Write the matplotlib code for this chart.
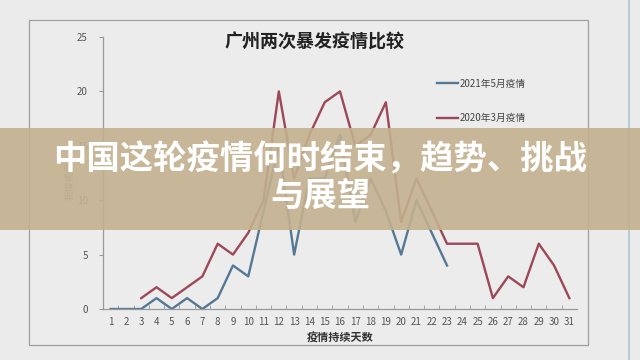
import matplotlib
matplotlib.use("Agg")
import matplotlib.pyplot as plt
from matplotlib.patches import Rectangle
from matplotlib.lines import Line2D

plt.rcParams['font.family'] = ['Noto Sans CJK SC', 'DejaVu Sans']

# data
day_labels = [str(d) for d in range(1, 32)]
days_2021 = list(range(1, 24))
cases_2021 = [0, 0, 0, 1, 0, 1, 0, 1, 4, 3, 9, 15, 5, 12, 12, 16, 8, 12, 9, 5, 10, 7, 4]
days_2020 = list(range(3, 32))
cases_2020 = [1, 2, 1, 2, 3, 6, 5, 7, 10, 20, 12, 16, 19, 20, 15, 16, 19, 8, 12, 9,
              6, 6, 6, 1, 3, 2, 6, 4, 1]
yticks = [0, 5, 10, 15, 20, 25]

blue = '#557894'
red = '#9c4858'
bg = '#ebebeb'

fig = plt.figure(figsize=(6.4, 3.6), dpi=100)
fig.patch.set_facecolor(bg)

# chart frame like the screenshot
fig.patches.append(Rectangle((29/640, 1-345/360), (588-29)/640, (345-20)/360,
                             transform=fig.transFigure, facecolor='#ececec',
                             edgecolor='#a0a0a0', lw=0.9, zorder=-2))
fig.lines.append(Line2D([629/640, 629/640], [0, 1], transform=fig.transFigure,
                        color='#a9c7d0', lw=1.2, zorder=-1))

ax = fig.add_axes([103/640, 1-309/360, (577-103)/640, (309-37)/360])
ax.set_facecolor('none')
ax.plot(days_2021, cases_2021, color=blue, lw=1.7, label='2021年5月疫情')
ax.plot(days_2020, cases_2020, color=red, lw=1.7, label='2020年3月疫情')

ax.set_xlim(0.5, 31.5)
ax.set_ylim(0, 25)
ax.set_xticks(range(1, 32))
ax.set_xticklabels(day_labels)
ax.set_xticks([d + 0.5 for d in range(0, 31)], minor=True)
ax.set_yticks(yticks)
ax.tick_params(axis='x', which='major', length=0, labelsize=7, labelcolor='#555555', pad=6)
ax.tick_params(axis='x', which='minor', length=3, color='#999999', direction='in')
ax.tick_params(axis='y', length=3, color='#999999', labelsize=7, labelcolor='#555555', pad=8)
for s in ['top', 'right']:
    ax.spines[s].set_visible(False)
for s in ['left', 'bottom']:
    ax.spines[s].set_color('#999999')
    ax.spines[s].set_linewidth(0.9)

fig.text(315/640, 1-42/360, '广州两次暴发疫情比较', ha='center', va='center',
         fontsize=13, fontweight='bold', color='#222222')
fig.text(340/640, 1-338/360, '疫情持续天数', ha='center', va='center',
         fontsize=8, fontweight='bold', color='#333333')
fig.text(70/640, 1-180/360, '新增病例', ha='center', va='center', rotation=90,
         fontsize=7, color='#777777')

fig.legend(loc='upper left', bbox_to_anchor=(428/640, 1-70/360), frameon=False,
           fontsize=7, handlelength=2.2, labelspacing=2.5, handletextpad=0.2,
           labelcolor='#444444')

# banner overlay
fig.patches.append(Rectangle((0, 1-230/360), 1, (230-128)/360, transform=fig.transFigure,
                             facecolor='#c3b08e', alpha=0.9, edgecolor='none', zorder=5))
fig.text(0.5, 1-160/360, '中国这轮疫情何时结束，趋势、挑战', ha='center', va='center',
         fontsize=24, fontweight='heavy', color='white', zorder=6)
fig.text(0.5, 1-196/360, '与展望', ha='center', va='center',
         fontsize=24, fontweight='heavy', color='white', zorder=6)

fig.savefig('out.png', dpi=100, facecolor=bg)
